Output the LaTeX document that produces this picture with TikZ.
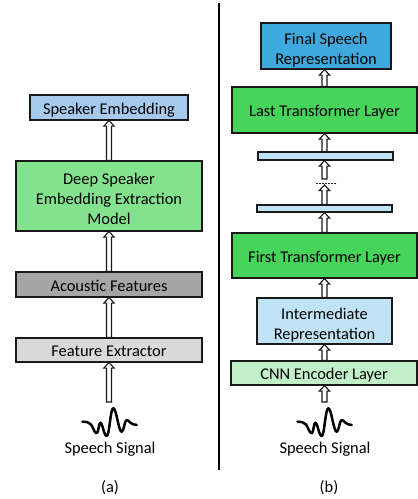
\documentclass[tikz,border=0pt]{standalone}
\usepackage{fontspec}
\setmainfont{Carlito}
\usetikzlibrary{calc}
\definecolor{cspk}{HTML}{A6CAEC}
\definecolor{cdeep}{HTML}{83E28E}
\definecolor{cacou}{HTML}{A6A6A6}
\definecolor{cfeat}{HTML}{D9D9D9}
\definecolor{cfinal}{HTML}{3FA9DD}
\definecolor{ctrans}{HTML}{47D45A}
\definecolor{cinter}{HTML}{C0E4F5}
\definecolor{ccnn}{HTML}{C1F0C8}
\newcommand{\tallfirst}{\rule{0pt}{19.5pt}}
\tikzset{
  px/.style={x=1pt,y=-1pt},
  struts/.style={execute at begin node={\rule{0pt}{#1}},execute at end node={\rule[-3.5pt]{0pt}{3.5pt}}},
  blockbox/.style={struts=16.5pt,draw=black!90,line width=1.2pt,inner sep=0pt,align=center,font=\fontsize{16.4}{20}\selectfont,text=black},
  lbl/.style={struts=14.5pt,inner sep=0pt,align=center,font=\fontsize{16.4}{20}\selectfont,text=black},
  wave/.style={line width=2.5pt,line cap=round,line join=round,black},
  hollow/.style={draw=black!90,fill=white,line width=1.1pt,line join=miter,
    to path={let \p1=(\tikztostart),\p2=(\tikztotarget) in
      (\x1-2.5pt,\y1) -- (\x1-2.5pt,\y2-5.5pt) -- (\x1-5.2pt,\y2-5.5pt) -- (\x1,\y2) -- (\x1+5.2pt,\y2-5.5pt) -- (\x1+2.5pt,\y2-5.5pt) -- (\x1+2.5pt,\y1) -- cycle}}
}
\newcommand{\boxat}[7]{\node[blockbox,fill=#2,minimum width=#5pt-#3pt,minimum height=#6pt-#4pt] (#1) at ({(#3+#5)/2},{(#4+#6)/2}) {#7};}
\newcommand{\thinbar}[6]{\node[draw=black!90,line width=1.2pt,inner sep=0pt,fill=#2,minimum width=#5pt-#3pt,minimum height=#6pt-#4pt] (#1) at ({(#3+#5)/2},{(#4+#6)/2}) {};}
\newcommand{\wavepath}[2]{\draw[wave,shift={(#1,#2)}] (-27.5,-2.3) .. controls (-23,-2.3) and (-21,-1.5) .. (-19,0.5) .. controls (-17,3) and (-15.5,9.3) .. (-13.3,9.3) .. controls (-11.5,9.3) and (-11.3,-1.3) .. (-9.7,-1.3) .. controls (-7.5,-1.3) and (-6,12) .. (-3.3,12) .. controls (-0.5,12) and (0.3,-15.7) .. (3.3,-15.7) .. controls (6.5,-15.7) and (8.5,7.7) .. (11.7,7.7) .. controls (14,7.7) and (14.5,-4) .. (16.7,-4) .. controls (19,-4) and (20.5,1) .. (26.7,1);}
\begin{document}
\begin{tikzpicture}[px]
\useasboundingbox (0,0) rectangle (418,499);
% left
\boxat{spk}{cspk}{30}{95}{188}{120}{Speaker Embedding}
\boxat{deep}{cdeep}{16}{161}{202}{231}{\tallfirst Deep Speaker\\Embedding Extraction\\Model}
\boxat{acou}{cacou}{16}{272}{202}{297}{Acoustic Features}
\boxat{feat}{cfeat}{16}{338}{202}{362}{Feature Extractor}
\coordinate (sl) at (109,402);
\path[hollow] (deep.north -| sl) to (spk.south -| sl);
\path[hollow] (acou.north -| sl) to (deep.south -| sl);
\path[hollow] (feat.north -| sl) to (acou.south -| sl);
\path[hollow] (sl) to (feat.south -| sl);
\wavepath{110}{424}
\node[lbl] (sa) at (110,448) {Speech Signal};
\node[lbl] (capa) at (110,487) {(a)};
% divider
\coordinate (dt) at (219,3);
\coordinate (db) at (219,470);
\draw[line width=2pt,black] (dt) -- (db);
% right
\boxat{final}{cfinal}{261}{23}{391}{69}{\tallfirst Final Speech\\Representation}
\boxat{last}{ctrans}{232}{87}{417}{133}{Last Transformer Layer}
\thinbar{bara}{cinter}{258}{152}{393}{160}
\thinbar{barb}{cinter}{257}{205}{392}{212}
\boxat{first}{ctrans}{232}{233}{417}{278}{First Transformer Layer}
\boxat{inter}{cinter}{257}{298}{392}{344}{\tallfirst Intermediate\\Representation}
\boxat{cnn}{ccnn}{231}{361}{417}{385}{CNN Encoder Layer}
\coordinate (sr) at (324.5,402);
\coordinate (dl) at (316,183);
\coordinate (dr) at (337,183);
\coordinate (ua) at (324.5,179);
\coordinate (ub) at (324.5,185);
\draw[line width=0.9pt,dash pattern=on 1.6pt off 1.4pt,black!85] (dl) -- (dr);
\path[hollow] (last.north -| sr) to (final.south -| sr);
\path[hollow] (bara.north -| sr) to (last.south -| sr);
\path[hollow] (ua) to (bara.south -| sr);
\path[hollow] (barb.north -| sr) to (ub);
\path[hollow] (first.north -| sr) to (barb.south -| sr);
\path[hollow] (inter.north -| sr) to (first.south -| sr);
\path[hollow] (cnn.north -| sr) to (inter.south -| sr);
\path[hollow] (sr) to (cnn.south -| sr);
\wavepath{325}{424}
\node[lbl] (sb) at (325,448) {Speech Signal};
\node[lbl] (capb) at (329,487) {(b)};
\end{tikzpicture}
\end{document}
